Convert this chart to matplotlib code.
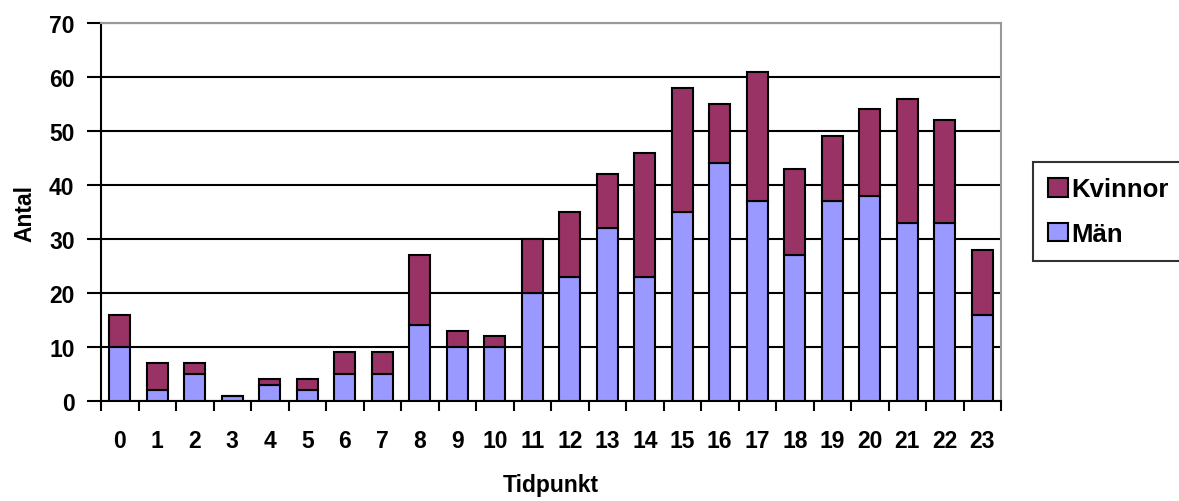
import matplotlib.pyplot as plt
import numpy as np
from matplotlib.patches import Patch

plt.rcParams['font.family'] = ['Liberation Sans', 'DejaVu Sans']
plt.rcParams['font.weight'] = 'bold'

hours = np.arange(24)
man = [10, 2, 5, 1, 3, 2, 5, 5, 14, 10, 10, 20, 23, 32, 23, 35, 44, 37, 27, 37, 38, 33, 33, 16]
total = [16, 7, 7, 1, 4, 4, 9, 9, 27, 13, 12, 30, 35, 42, 46, 58, 55, 61, 43, 49, 54, 56, 52, 28]
kvinnor = [t - m for t, m in zip(total, man)]

c_man = '#9999FF'
c_kv = '#993366'
fs = 16.5

fig = plt.figure(figsize=(11.79, 5.02), dpi=100)
ax = fig.add_axes([101/1179, 100/502, 900/1179, 378/502])

w = 0.57
ax.bar(hours, man, w, color=c_man, edgecolor='black', linewidth=1.5, zorder=3)
ax.bar(hours, kvinnor, w, bottom=man, color=c_kv, edgecolor='black', linewidth=1.5, zorder=3)

ax.set_xlim(-0.5, 23.5)
ax.set_ylim(0, 70)
ax.set_yticks(range(0, 71, 10))
ax.set_xticks(hours)
ax.set_xticks(np.arange(-0.5, 24, 1), minor=True)
ax.tick_params(axis='x', which='major', length=0, pad=20, labelsize=fs)
ax.tick_params(axis='x', which='minor', length=7, width=1.5, direction='out')
ax.tick_params(axis='y', length=10, width=1.5, direction='out', labelsize=fs, pad=9)
for lbl in ax.get_xticklabels() + ax.get_yticklabels():
    lbl.set_fontweight('bold')

ax.grid(axis='y', color='black', linewidth=1.5, zorder=0)
ax.spines['left'].set_linewidth(1.5)
ax.spines['bottom'].set_linewidth(1.5)
for side in ('top', 'right'):
    ax.spines[side].set_color('#999999')
    ax.spines[side].set_linewidth(1.5)

ax.set_xlabel('Tidpunkt', fontsize=fs, fontweight='bold', labelpad=15)
ax.set_ylabel('Antal', fontsize=fs, fontweight='bold', labelpad=9)

handles = [Patch(facecolor=c_kv, edgecolor='black', linewidth=1.5, label='Kvinnor'),
           Patch(facecolor=c_man, edgecolor='black', linewidth=1.5, label='Män')]
leg = fig.legend(handles=handles, loc='upper left', bbox_to_anchor=(1033/1179, 1 - 163/502),
                 frameon=True, fancybox=False, edgecolor='black', fontsize=18.5,
                 handlelength=0.75, handleheight=0.75, handletextpad=0.15,
                 borderpad=0.6, labelspacing=0.8, borderaxespad=0)
leg.get_frame().set_linewidth(1.5)
for t in leg.get_texts():
    t.set_fontweight('bold')

fig.savefig('out.png', dpi=100)
